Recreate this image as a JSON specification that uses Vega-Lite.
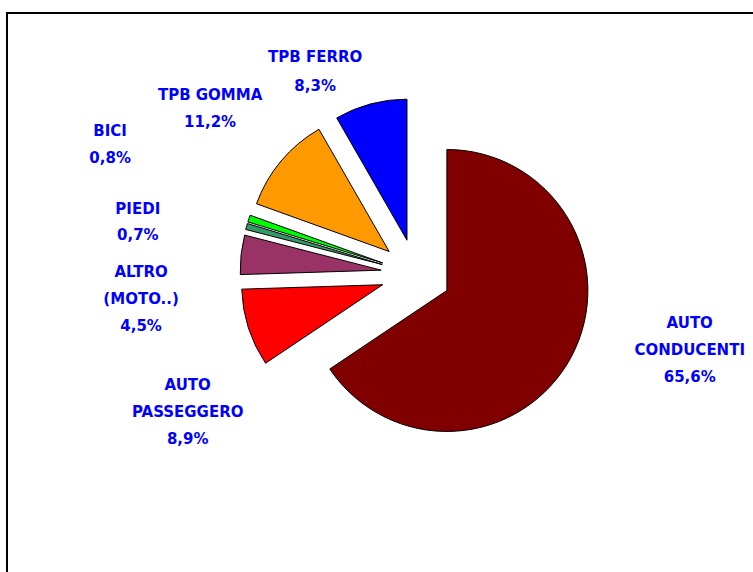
{
  "$schema": "https://vega.github.io/schema/vega-lite/v6.json",
  "width": 818,
  "height": 600,
  "autosize": {"type": "none"},
  "padding": {"left": 7, "top": 13, "right": 0, "bottom": 0},
  "background": "white",
  "config": {"view": {"stroke": "black", "strokeWidth": 2}},
  "data": {"values": [
    {"cat": "Auto Conducenti", "share": 65.6, "label": "AUTO\nCONDUCENTI\n65,6%"},
    {"cat": "Auto Passeggero", "share": 8.9, "label": "AUTO\nPASSEGGERO\n8,9%"},
    {"cat": "Altro (moto..)", "share": 4.5, "label": "ALTRO\n(MOTO..)\n4,5%"},
    {"cat": "Piedi", "share": 0.7, "label": "PIEDI\n0,7%"},
    {"cat": "Bici", "share": 0.8, "label": "BICI\n0,8%"},
    {"cat": "TPB Gomma", "share": 11.2, "label": "TPB GOMMA\n11,2%"},
    {"cat": "TPB Ferro", "share": 8.3, "label": "TPB FERRO\n8,3%"}
  ]},
  "transform": [
    {"window": [{"op": "sum", "field": "share", "as": "cum"}], "frame": [null, 0]},
    {"calculate": "datum.cum - datum.share", "as": "start"},
    {"calculate": "datum.cum - datum.share / 2", "as": "mid"},
    {"calculate": "sin(2 * PI * datum.mid / 100)", "as": "ex"},
    {"calculate": "cos(2 * PI * datum.mid / 100)", "as": "ey"}
  ],
  "layer": [
    {
      "mark": {"type": "arc", "outerRadius": 141, "stroke": "black", "strokeWidth": 1},
      "encoding": {
        "theta": {"field": "start", "type": "quantitative", "stack": null, "scale": {"domain": [0, 100]}},
        "theta2": {"field": "cum"},
        "x": {"field": "ex", "type": "quantitative", "axis": null, "scale": {"domain": [-11.6857, 11.6857], "nice": false, "zero": false}},
        "y": {"field": "ey", "type": "quantitative", "axis": null, "scale": {"domain": [-9.6857, 7.4571], "nice": false, "zero": false}},
        "color": {"field": "cat", "type": "nominal", "legend": null,
          "scale": {"domain": ["Auto Conducenti", "Auto Passeggero", "Altro (moto..)", "Piedi", "Bici", "TPB Gomma", "TPB Ferro"],
                    "range": ["#800000", "#FF0000", "#993366", "#339966", "#00FF00", "#FF9900", "#0000FF"]}}
      }
    },
    {
      "transform": [{"filter": "datum.cat == 'Auto Conducenti'"}],
      "mark": {"type": "text", "radius": 284, "thetaOffset": -0.22, "dy": -27, "align": "center", "baseline": "middle", "lineBreak": "\n", "lineHeight": 27, "font": "DejaVu Sans", "fontWeight": "bold", "fontSize": 15, "color": "#0000FF"},
      "encoding": {
        "theta": {"field": "mid", "type": "quantitative", "stack": null},
        "x": {"datum": 0, "type": "quantitative"},
        "y": {"datum": 0, "type": "quantitative"},
        "text": {"field": "label"}
      }
    },
    {
      "transform": [{"filter": "datum.cat == 'Auto Passeggero'"}],
      "mark": {"type": "text", "radius": 267, "thetaOffset": -0.234, "dy": -27, "align": "center", "baseline": "middle", "lineBreak": "\n", "lineHeight": 27, "font": "DejaVu Sans", "fontWeight": "bold", "fontSize": 15, "color": "#0000FF"},
      "encoding": {
        "theta": {"field": "mid", "type": "quantitative", "stack": null},
        "x": {"datum": 0, "type": "quantitative"},
        "y": {"datum": 0, "type": "quantitative"},
        "text": {"field": "label"}
      }
    },
    {
      "transform": [{"filter": "datum.cat == 'Altro (moto..)'"}],
      "mark": {"type": "text", "radius": 276, "thetaOffset": -0.199, "dy": -27, "align": "center", "baseline": "middle", "lineBreak": "\n", "lineHeight": 27, "font": "DejaVu Sans", "fontWeight": "bold", "fontSize": 15, "color": "#0000FF"},
      "encoding": {
        "theta": {"field": "mid", "type": "quantitative", "stack": null},
        "x": {"datum": 0, "type": "quantitative"},
        "y": {"datum": 0, "type": "quantitative"},
        "text": {"field": "label"}
      }
    },
    {
      "transform": [{"filter": "datum.cat == 'Piedi'"}],
      "mark": {"type": "text", "radius": 283, "thetaOffset": -0.089, "dy": -13, "align": "center", "baseline": "middle", "lineBreak": "\n", "lineHeight": 26, "font": "DejaVu Sans", "fontWeight": "bold", "fontSize": 15, "color": "#0000FF"},
      "encoding": {
        "theta": {"field": "mid", "type": "quantitative", "stack": null},
        "x": {"datum": 0, "type": "quantitative"},
        "y": {"datum": 0, "type": "quantitative"},
        "text": {"field": "label"}
      }
    },
    {
      "transform": [{"filter": "datum.cat == 'Bici'"}],
      "mark": {"type": "text", "radius": 332, "thetaOffset": 0.079, "dy": -13.5, "align": "center", "baseline": "middle", "lineBreak": "\n", "lineHeight": 27, "font": "DejaVu Sans", "fontWeight": "bold", "fontSize": 15, "color": "#0000FF"},
      "encoding": {
        "theta": {"field": "mid", "type": "quantitative", "stack": null},
        "x": {"datum": 0, "type": "quantitative"},
        "y": {"datum": 0, "type": "quantitative"},
        "text": {"field": "label"}
      }
    },
    {
      "transform": [{"filter": "datum.cat == 'TPB Gomma'"}],
      "mark": {"type": "text", "radius": 264, "thetaOffset": -0.021, "dy": -13.5, "align": "center", "baseline": "middle", "lineBreak": "\n", "lineHeight": 27, "font": "DejaVu Sans", "fontWeight": "bold", "fontSize": 15, "color": "#0000FF"},
      "encoding": {
        "theta": {"field": "mid", "type": "quantitative", "stack": null},
        "x": {"datum": 0, "type": "quantitative"},
        "y": {"datum": 0, "type": "quantitative"},
        "text": {"field": "label"}
      }
    },
    {
      "transform": [{"filter": "datum.cat == 'TPB Ferro'"}],
      "mark": {"type": "text", "radius": 226, "thetaOffset": -0.202, "dy": -14.5, "align": "center", "baseline": "middle", "lineBreak": "\n", "lineHeight": 29, "font": "DejaVu Sans", "fontWeight": "bold", "fontSize": 15, "color": "#0000FF"},
      "encoding": {
        "theta": {"field": "mid", "type": "quantitative", "stack": null},
        "x": {"datum": 0, "type": "quantitative"},
        "y": {"datum": 0, "type": "quantitative"},
        "text": {"field": "label"}
      }
    }
  ]
}
